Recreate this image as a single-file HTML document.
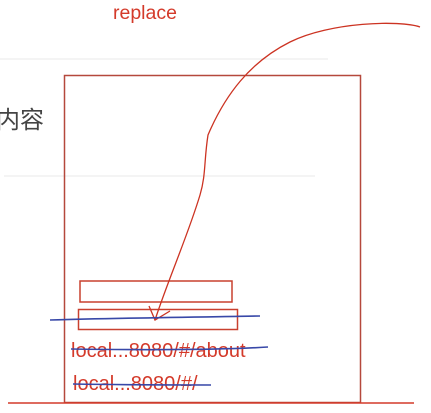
<!DOCTYPE html>
<html><head><meta charset="utf-8"><style>
html,body{margin:0;padding:0;background:#fff;width:431px;height:413px;overflow:hidden}
svg{display:block}
</style></head><body>
<svg width="431" height="413" viewBox="0 0 431 413">
<line x1="0" y1="59" x2="328" y2="59" stroke="#e8e8e8" stroke-width="1"/>
<line x1="4" y1="176" x2="315" y2="176" stroke="#e8e8e8" stroke-width="1"/>
<text x="-4" y="128" font-family="'Liberation Sans','Noto Sans CJK SC',sans-serif" font-size="24" fill="#444">内容</text>
<text x="113" y="19" font-family="'Liberation Sans',sans-serif" font-size="19.5" fill="#d43a2a">replace</text>
<rect x="64.5" y="75.5" width="296" height="327" fill="none" stroke="#b5483c" stroke-width="1.5"/>
<line x1="8" y1="403" x2="414" y2="403" stroke="#d43a2a" stroke-width="1.5"/>
<rect x="80" y="281" width="152" height="21" fill="none" stroke="#c9402f" stroke-width="1.5"/>
<rect x="78.5" y="309.5" width="159" height="20" fill="none" stroke="#c9402f" stroke-width="1.5"/>
<path d="M420,27 C400,20 330,22 290,42 C250,62 225,95 208,135 C204,160 206,175 200,195 C188,235 168,280 155,320" fill="none" stroke="#cc3322" stroke-width="1.3"/>
<path d="M149,306 L155,320 L170,311" fill="none" stroke="#cc3322" stroke-width="1.3"/>
<path d="M50,320 C120,318 200,317 260,316" fill="none" stroke="#3848a8" stroke-width="1.6"/>
<text x="71" y="357" font-family="'Liberation Sans',sans-serif" font-size="20" fill="#d43a2a">local...8080/#/about</text>
<path d="M71,349 C140,350 220,350 268,347" fill="none" stroke="#3848a8" stroke-width="1.6"/>
<text x="73" y="390" font-family="'Liberation Sans',sans-serif" font-size="20" fill="#d43a2a">local...8080/#/</text>
<path d="M73,384 C130,385 180,385 211,385" fill="none" stroke="#3848a8" stroke-width="1.6"/>
</svg>
</body></html>
